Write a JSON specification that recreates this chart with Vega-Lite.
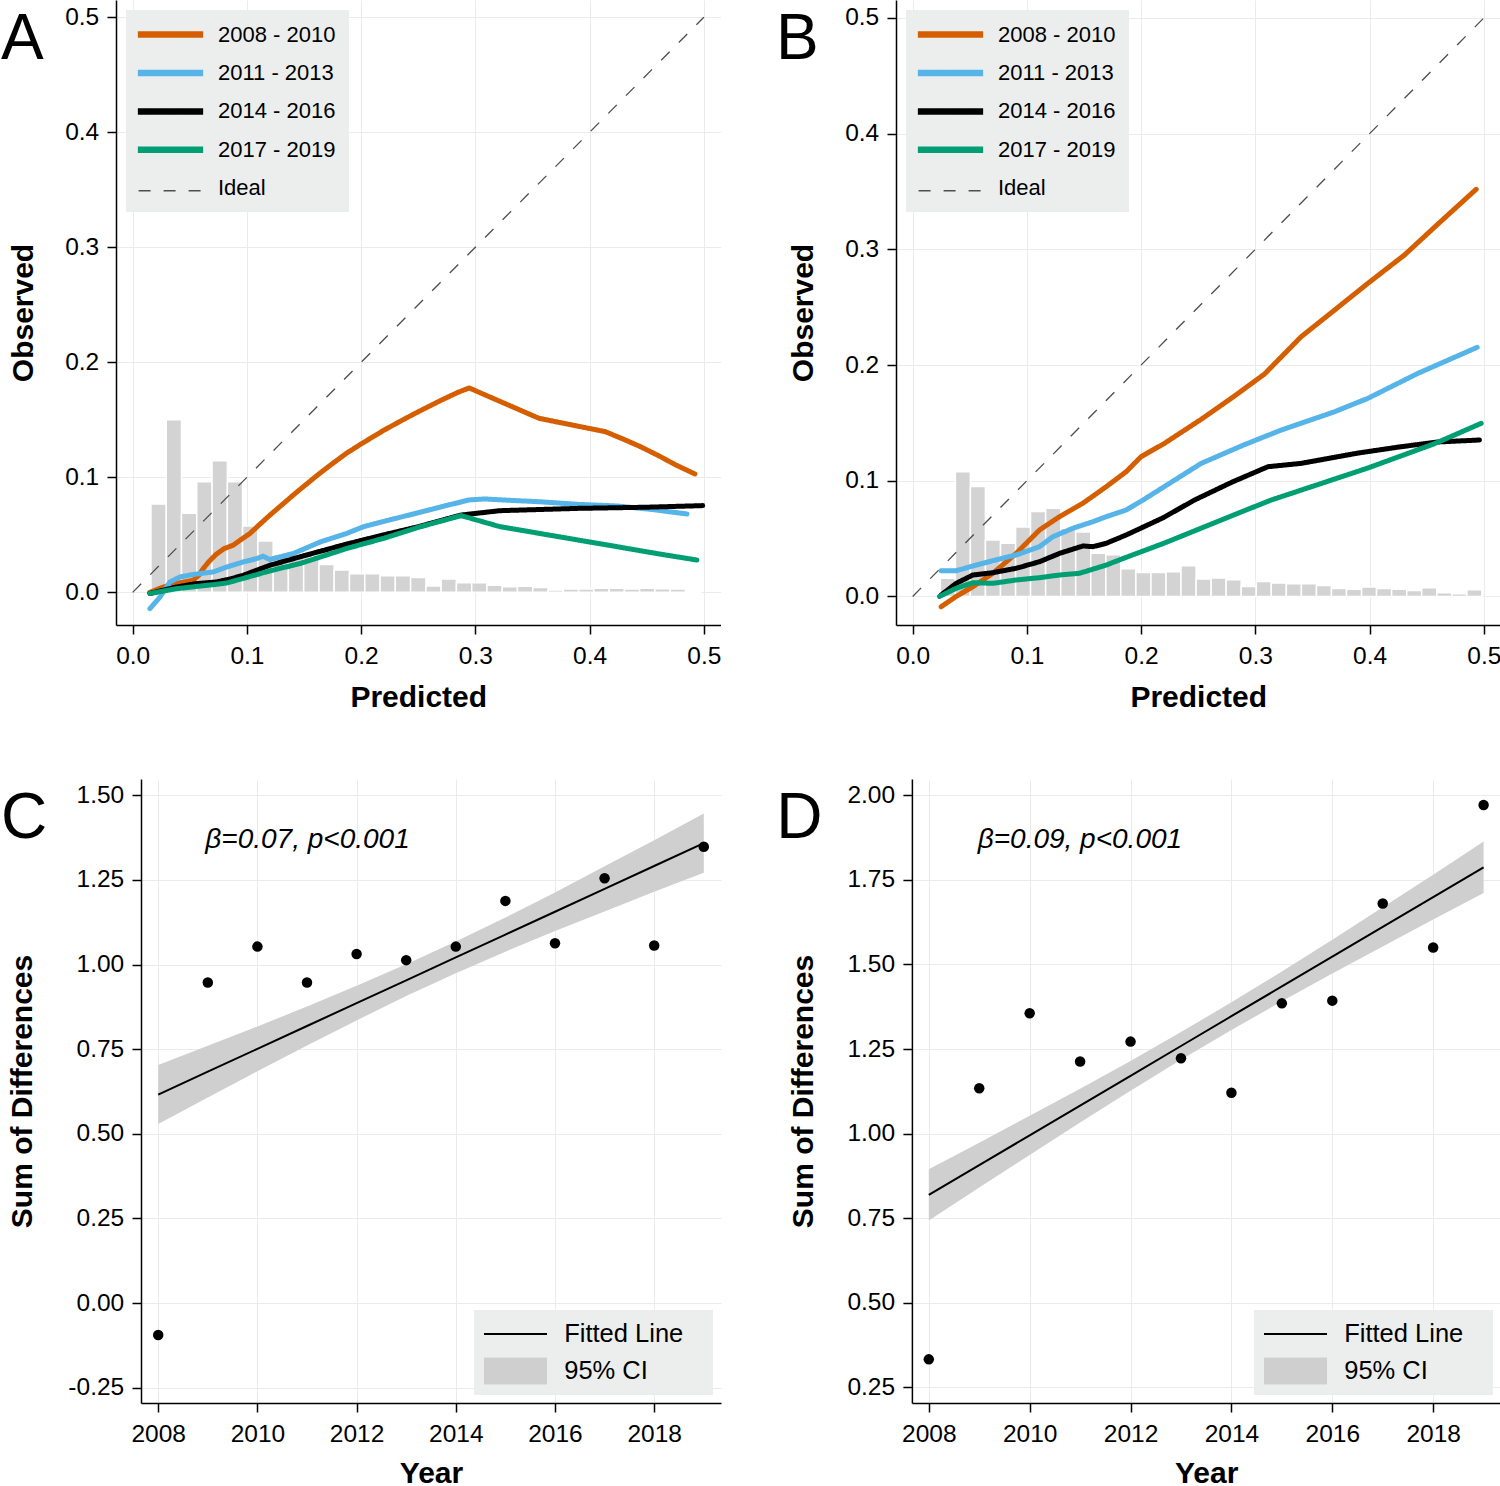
{
  "$schema": "https://vega.github.io/schema/vega-lite/v6.json",
  "padding": 0,
  "background": "white",
  "columns": 2,
  "align": "each",
  "spacing": {"row": 66, "column": 55},
  "resolve": {
    "scale": {"color": "independent", "fill": "independent", "strokeDash": "independent", "strokeWidth": "independent"},
    "legend": {"color": "independent", "fill": "independent", "strokeDash": "independent", "strokeWidth": "independent"}
  },
  "config": {
    "font": "Liberation Sans",
    "view": {"stroke": null},
    "axis": {
      "labelFont": "Liberation Sans", "labelFontSize": 24.5, "labelColor": "black",
      "titleFont": "Liberation Sans", "titleFontSize": 30, "titleFontWeight": "bold", "titleColor": "black",
      "domainColor": "black", "domainWidth": 1.5, "tickColor": "black", "tickWidth": 1.5, "tickSize": 9,
      "labelPadding": 8.3, "gridColor": "#EBEBEB", "gridWidth": 1, "labelFlush": false, "labelOverlap": false
    },
    "axisX": {"titlePadding": 15, "labelPadding": 10}
  },
  "datasets": {
    "ideal": [{"x": 0, "y": 0}, {"x": 0.5, "y": 0.5}],
    "histA": [
      {"x0": 0.0160, "x1": 0.0294, "h": 0.0768}, {"x0": 0.0294, "x1": 0.0427, "h": 0.150},
      {"x0": 0.0427, "x1": 0.0561, "h": 0.0687}, {"x0": 0.0561, "x1": 0.0695, "h": 0.0962},
      {"x0": 0.0695, "x1": 0.0829, "h": 0.1143}, {"x0": 0.0829, "x1": 0.0962, "h": 0.0962},
      {"x0": 0.0962, "x1": 0.1096, "h": 0.0576}, {"x0": 0.1096, "x1": 0.1230, "h": 0.0446},
      {"x0": 0.1230, "x1": 0.1363, "h": 0.033}, {"x0": 0.1363, "x1": 0.1497, "h": 0.031},
      {"x0": 0.1497, "x1": 0.1631, "h": 0.030}, {"x0": 0.1631, "x1": 0.1764, "h": 0.0243},
      {"x0": 0.1764, "x1": 0.1898, "h": 0.0194}, {"x0": 0.1898, "x1": 0.2032, "h": 0.0162},
      {"x0": 0.2032, "x1": 0.2166, "h": 0.0162}, {"x0": 0.2166, "x1": 0.2299, "h": 0.0145},
      {"x0": 0.2299, "x1": 0.2433, "h": 0.0145}, {"x0": 0.2433, "x1": 0.2567, "h": 0.013},
      {"x0": 0.2567, "x1": 0.2700, "h": 0.0055}, {"x0": 0.2700, "x1": 0.2834, "h": 0.0116},
      {"x0": 0.2834, "x1": 0.2968, "h": 0.0084}, {"x0": 0.2968, "x1": 0.3101, "h": 0.0084},
      {"x0": 0.3101, "x1": 0.3235, "h": 0.0061}, {"x0": 0.3235, "x1": 0.3369, "h": 0.0049},
      {"x0": 0.3369, "x1": 0.3503, "h": 0.0052}, {"x0": 0.3503, "x1": 0.3636, "h": 0.0041},
      {"x0": 0.3636, "x1": 0.3770, "h": 0.002}, {"x0": 0.3770, "x1": 0.3904, "h": 0.0029},
      {"x0": 0.3904, "x1": 0.4037, "h": 0.0029}, {"x0": 0.4037, "x1": 0.4171, "h": 0.0035},
      {"x0": 0.4171, "x1": 0.4305, "h": 0.0035}, {"x0": 0.4305, "x1": 0.4438, "h": 0.0029},
      {"x0": 0.4438, "x1": 0.4572, "h": 0.0035}, {"x0": 0.4572, "x1": 0.4706, "h": 0.0032},
      {"x0": 0.4706, "x1": 0.4840, "h": 0.0029}, {"x0": 0.4840, "x1": 0.4973, "h": 0.0014}
    ],
    "histB": [
      {"x0": 0.0242, "x1": 0.0374, "h": 0.0157}, {"x0": 0.0374, "x1": 0.0505, "h": 0.1078},
      {"x0": 0.0505, "x1": 0.0637, "h": 0.095}, {"x0": 0.0637, "x1": 0.0769, "h": 0.0488},
      {"x0": 0.0769, "x1": 0.0901, "h": 0.046}, {"x0": 0.0901, "x1": 0.1032, "h": 0.060},
      {"x0": 0.1032, "x1": 0.1164, "h": 0.0734}, {"x0": 0.1164, "x1": 0.1296, "h": 0.0762},
      {"x0": 0.1296, "x1": 0.1427, "h": 0.0589}, {"x0": 0.1427, "x1": 0.1559, "h": 0.0557},
      {"x0": 0.1559, "x1": 0.1691, "h": 0.0373}, {"x0": 0.1691, "x1": 0.1822, "h": 0.036},
      {"x0": 0.1822, "x1": 0.1954, "h": 0.0239}, {"x0": 0.1954, "x1": 0.2086, "h": 0.0207},
      {"x0": 0.2086, "x1": 0.2218, "h": 0.0207}, {"x0": 0.2218, "x1": 0.2349, "h": 0.0213},
      {"x0": 0.2349, "x1": 0.2481, "h": 0.0265}, {"x0": 0.2481, "x1": 0.2613, "h": 0.015},
      {"x0": 0.2613, "x1": 0.2744, "h": 0.0159}, {"x0": 0.2744, "x1": 0.2876, "h": 0.0144},
      {"x0": 0.2876, "x1": 0.3008, "h": 0.0086}, {"x0": 0.3008, "x1": 0.3139, "h": 0.013},
      {"x0": 0.3139, "x1": 0.3271, "h": 0.0115}, {"x0": 0.3271, "x1": 0.3403, "h": 0.011},
      {"x0": 0.3403, "x1": 0.3535, "h": 0.011}, {"x0": 0.3535, "x1": 0.3666, "h": 0.0095},
      {"x0": 0.3666, "x1": 0.3798, "h": 0.0069}, {"x0": 0.3798, "x1": 0.3930, "h": 0.0063},
      {"x0": 0.3930, "x1": 0.4061, "h": 0.0081}, {"x0": 0.4061, "x1": 0.4193, "h": 0.0069},
      {"x0": 0.4193, "x1": 0.4325, "h": 0.0063}, {"x0": 0.4325, "x1": 0.4456, "h": 0.0052},
      {"x0": 0.4456, "x1": 0.4588, "h": 0.0075}, {"x0": 0.4588, "x1": 0.4720, "h": 0.0032},
      {"x0": 0.4720, "x1": 0.4852, "h": 0.0023}, {"x0": 0.4852, "x1": 0.4983, "h": 0.0058}
    ],
    "linesA": [
      {"series": "2008 - 2010", "x": 0.015, "y": 0.000}, {"series": "2008 - 2010", "x": 0.025, "y": 0.004},
      {"series": "2008 - 2010", "x": 0.035, "y": 0.007}, {"series": "2008 - 2010", "x": 0.045, "y": 0.009},
      {"series": "2008 - 2010", "x": 0.053, "y": 0.0105}, {"series": "2008 - 2010", "x": 0.058, "y": 0.015},
      {"series": "2008 - 2010", "x": 0.062, "y": 0.021}, {"series": "2008 - 2010", "x": 0.067, "y": 0.027},
      {"series": "2008 - 2010", "x": 0.073, "y": 0.033}, {"series": "2008 - 2010", "x": 0.080, "y": 0.038},
      {"series": "2008 - 2010", "x": 0.088, "y": 0.041}, {"series": "2008 - 2010", "x": 0.095, "y": 0.046},
      {"series": "2008 - 2010", "x": 0.1026, "y": 0.0511}, {"series": "2008 - 2010", "x": 0.110, "y": 0.058},
      {"series": "2008 - 2010", "x": 0.120, "y": 0.067}, {"series": "2008 - 2010", "x": 0.130, "y": 0.0755},
      {"series": "2008 - 2010", "x": 0.1405, "y": 0.0845}, {"series": "2008 - 2010", "x": 0.152, "y": 0.094},
      {"series": "2008 - 2010", "x": 0.1637, "y": 0.1034}, {"series": "2008 - 2010", "x": 0.175, "y": 0.112},
      {"series": "2008 - 2010", "x": 0.187, "y": 0.1208}, {"series": "2008 - 2010", "x": 0.200, "y": 0.129},
      {"series": "2008 - 2010", "x": 0.220, "y": 0.141}, {"series": "2008 - 2010", "x": 0.2364, "y": 0.1499},
      {"series": "2008 - 2010", "x": 0.250, "y": 0.157}, {"series": "2008 - 2010", "x": 0.270, "y": 0.167},
      {"series": "2008 - 2010", "x": 0.285, "y": 0.174}, {"series": "2008 - 2010", "x": 0.2946, "y": 0.1777},
      {"series": "2008 - 2010", "x": 0.310, "y": 0.171}, {"series": "2008 - 2010", "x": 0.330, "y": 0.1624},
      {"series": "2008 - 2010", "x": 0.3557, "y": 0.1513}, {"series": "2008 - 2010", "x": 0.380, "y": 0.1464},
      {"series": "2008 - 2010", "x": 0.4137, "y": 0.1397}, {"series": "2008 - 2010", "x": 0.430, "y": 0.133},
      {"series": "2008 - 2010", "x": 0.4444, "y": 0.1267}, {"series": "2008 - 2010", "x": 0.460, "y": 0.119},
      {"series": "2008 - 2010", "x": 0.475, "y": 0.111}, {"series": "2008 - 2010", "x": 0.4922, "y": 0.1029},
      {"series": "2011 - 2013", "x": 0.0151, "y": -0.0142}, {"series": "2011 - 2013", "x": 0.0239, "y": -0.0041},
      {"series": "2011 - 2013", "x": 0.0326, "y": 0.009}, {"series": "2011 - 2013", "x": 0.0413, "y": 0.0133},
      {"series": "2011 - 2013", "x": 0.050, "y": 0.015}, {"series": "2011 - 2013", "x": 0.0588, "y": 0.0163},
      {"series": "2011 - 2013", "x": 0.0705, "y": 0.0177}, {"series": "2011 - 2013", "x": 0.0822, "y": 0.022},
      {"series": "2011 - 2013", "x": 0.0967, "y": 0.0264}, {"series": "2011 - 2013", "x": 0.1084, "y": 0.0293},
      {"series": "2011 - 2013", "x": 0.1142, "y": 0.0314}, {"series": "2011 - 2013", "x": 0.120, "y": 0.0285},
      {"series": "2011 - 2013", "x": 0.130, "y": 0.031}, {"series": "2011 - 2013", "x": 0.1405, "y": 0.0337},
      {"series": "2011 - 2013", "x": 0.1647, "y": 0.044}, {"series": "2011 - 2013", "x": 0.187, "y": 0.0511},
      {"series": "2011 - 2013", "x": 0.2022, "y": 0.0571}, {"series": "2011 - 2013", "x": 0.2534, "y": 0.0701},
      {"series": "2011 - 2013", "x": 0.2943, "y": 0.0803}, {"series": "2011 - 2013", "x": 0.308, "y": 0.0812},
      {"series": "2011 - 2013", "x": 0.330, "y": 0.080}, {"series": "2011 - 2013", "x": 0.3557, "y": 0.0788},
      {"series": "2011 - 2013", "x": 0.390, "y": 0.0765}, {"series": "2011 - 2013", "x": 0.424, "y": 0.0751},
      {"series": "2011 - 2013", "x": 0.455, "y": 0.072}, {"series": "2011 - 2013", "x": 0.4853, "y": 0.0681},
      {"series": "2014 - 2016", "x": 0.0151, "y": -0.001}, {"series": "2014 - 2016", "x": 0.0385, "y": 0.0046},
      {"series": "2014 - 2016", "x": 0.055, "y": 0.0075}, {"series": "2014 - 2016", "x": 0.0734, "y": 0.009},
      {"series": "2014 - 2016", "x": 0.085, "y": 0.0115}, {"series": "2014 - 2016", "x": 0.0967, "y": 0.0148},
      {"series": "2014 - 2016", "x": 0.120, "y": 0.0235}, {"series": "2014 - 2016", "x": 0.1463, "y": 0.0308},
      {"series": "2014 - 2016", "x": 0.187, "y": 0.0418}, {"series": "2014 - 2016", "x": 0.220, "y": 0.050},
      {"series": "2014 - 2016", "x": 0.250, "y": 0.057}, {"series": "2014 - 2016", "x": 0.2875, "y": 0.0672},
      {"series": "2014 - 2016", "x": 0.3216, "y": 0.071}, {"series": "2014 - 2016", "x": 0.3898, "y": 0.073},
      {"series": "2014 - 2016", "x": 0.450, "y": 0.074}, {"series": "2014 - 2016", "x": 0.499, "y": 0.0754},
      {"series": "2017 - 2019", "x": 0.0151, "y": -0.001}, {"series": "2017 - 2019", "x": 0.0385, "y": 0.0032},
      {"series": "2017 - 2019", "x": 0.0734, "y": 0.007}, {"series": "2017 - 2019", "x": 0.0822, "y": 0.0081},
      {"series": "2017 - 2019", "x": 0.100, "y": 0.013}, {"series": "2017 - 2019", "x": 0.120, "y": 0.0186},
      {"series": "2017 - 2019", "x": 0.1463, "y": 0.025}, {"series": "2017 - 2019", "x": 0.187, "y": 0.038},
      {"series": "2017 - 2019", "x": 0.220, "y": 0.047}, {"series": "2017 - 2019", "x": 0.250, "y": 0.0565},
      {"series": "2017 - 2019", "x": 0.2875, "y": 0.0667}, {"series": "2017 - 2019", "x": 0.3216, "y": 0.0571},
      {"series": "2017 - 2019", "x": 0.3898, "y": 0.0455}, {"series": "2017 - 2019", "x": 0.424, "y": 0.0397},
      {"series": "2017 - 2019", "x": 0.460, "y": 0.0335}, {"series": "2017 - 2019", "x": 0.4939, "y": 0.0281}
    ],
    "linesB": [
      {"series": "2008 - 2010", "x": 0.0249, "y": -0.0089}, {"series": "2008 - 2010", "x": 0.0381, "y": 0.0},
      {"series": "2008 - 2010", "x": 0.0527, "y": 0.0084}, {"series": "2008 - 2010", "x": 0.0702, "y": 0.020},
      {"series": "2008 - 2010", "x": 0.0906, "y": 0.0372}, {"series": "2008 - 2010", "x": 0.111, "y": 0.0574},
      {"series": "2008 - 2010", "x": 0.1285, "y": 0.0689}, {"series": "2008 - 2010", "x": 0.149, "y": 0.0805},
      {"series": "2008 - 2010", "x": 0.1694, "y": 0.0948}, {"series": "2008 - 2010", "x": 0.1869, "y": 0.1078},
      {"series": "2008 - 2010", "x": 0.200, "y": 0.1208}, {"series": "2008 - 2010", "x": 0.2204, "y": 0.1323},
      {"series": "2008 - 2010", "x": 0.2526, "y": 0.1531}, {"series": "2008 - 2010", "x": 0.280, "y": 0.172},
      {"series": "2008 - 2010", "x": 0.308, "y": 0.1922}, {"series": "2008 - 2010", "x": 0.3401, "y": 0.2245},
      {"series": "2008 - 2010", "x": 0.370, "y": 0.248}, {"series": "2008 - 2010", "x": 0.3985, "y": 0.2706},
      {"series": "2008 - 2010", "x": 0.4305, "y": 0.2951}, {"series": "2008 - 2010", "x": 0.460, "y": 0.322},
      {"series": "2008 - 2010", "x": 0.4933, "y": 0.3519},
      {"series": "2011 - 2013", "x": 0.0249, "y": 0.0222}, {"series": "2011 - 2013", "x": 0.0381, "y": 0.0222},
      {"series": "2011 - 2013", "x": 0.0527, "y": 0.0263}, {"series": "2011 - 2013", "x": 0.0702, "y": 0.0309},
      {"series": "2011 - 2013", "x": 0.0906, "y": 0.0358}, {"series": "2011 - 2013", "x": 0.111, "y": 0.043},
      {"series": "2011 - 2013", "x": 0.1227, "y": 0.0516}, {"series": "2011 - 2013", "x": 0.1402, "y": 0.0589},
      {"series": "2011 - 2013", "x": 0.1578, "y": 0.0646}, {"series": "2011 - 2013", "x": 0.1694, "y": 0.0689},
      {"series": "2011 - 2013", "x": 0.1869, "y": 0.0747}, {"series": "2011 - 2013", "x": 0.200, "y": 0.0823},
      {"series": "2011 - 2013", "x": 0.2526, "y": 0.115}, {"series": "2011 - 2013", "x": 0.290, "y": 0.131},
      {"series": "2011 - 2013", "x": 0.3226, "y": 0.1438}, {"series": "2011 - 2013", "x": 0.3693, "y": 0.1596},
      {"series": "2011 - 2013", "x": 0.3985, "y": 0.1712}, {"series": "2011 - 2013", "x": 0.4423, "y": 0.1928},
      {"series": "2011 - 2013", "x": 0.4942, "y": 0.2153},
      {"series": "2014 - 2016", "x": 0.0249, "y": 0.0012}, {"series": "2014 - 2016", "x": 0.0381, "y": 0.0113},
      {"series": "2014 - 2016", "x": 0.0527, "y": 0.0185}, {"series": "2014 - 2016", "x": 0.0702, "y": 0.0205},
      {"series": "2014 - 2016", "x": 0.0906, "y": 0.0243}, {"series": "2014 - 2016", "x": 0.111, "y": 0.030},
      {"series": "2014 - 2016", "x": 0.1285, "y": 0.0372}, {"series": "2014 - 2016", "x": 0.149, "y": 0.0436},
      {"series": "2014 - 2016", "x": 0.1578, "y": 0.043}, {"series": "2014 - 2016", "x": 0.1694, "y": 0.0459},
      {"series": "2014 - 2016", "x": 0.1869, "y": 0.0531}, {"series": "2014 - 2016", "x": 0.2193, "y": 0.068},
      {"series": "2014 - 2016", "x": 0.2467, "y": 0.0833}, {"series": "2014 - 2016", "x": 0.280, "y": 0.099},
      {"series": "2014 - 2016", "x": 0.311, "y": 0.1121}, {"series": "2014 - 2016", "x": 0.3401, "y": 0.115},
      {"series": "2014 - 2016", "x": 0.3898, "y": 0.1239}, {"series": "2014 - 2016", "x": 0.4276, "y": 0.1294},
      {"series": "2014 - 2016", "x": 0.460, "y": 0.1335}, {"series": "2014 - 2016", "x": 0.4962, "y": 0.1352},
      {"series": "2017 - 2019", "x": 0.0235, "y": 0.0}, {"series": "2017 - 2019", "x": 0.0381, "y": 0.007},
      {"series": "2017 - 2019", "x": 0.0527, "y": 0.0119}, {"series": "2017 - 2019", "x": 0.0702, "y": 0.0113},
      {"series": "2017 - 2019", "x": 0.0906, "y": 0.0142}, {"series": "2017 - 2019", "x": 0.111, "y": 0.0162},
      {"series": "2017 - 2019", "x": 0.1285, "y": 0.0185}, {"series": "2017 - 2019", "x": 0.146, "y": 0.020},
      {"series": "2017 - 2019", "x": 0.1694, "y": 0.0271}, {"series": "2017 - 2019", "x": 0.1869, "y": 0.0338},
      {"series": "2017 - 2019", "x": 0.220, "y": 0.046}, {"series": "2017 - 2019", "x": 0.250, "y": 0.058},
      {"series": "2017 - 2019", "x": 0.280, "y": 0.070}, {"series": "2017 - 2019", "x": 0.3138, "y": 0.0833},
      {"series": "2017 - 2019", "x": 0.3985, "y": 0.111}, {"series": "2017 - 2019", "x": 0.4568, "y": 0.132},
      {"series": "2017 - 2019", "x": 0.4977, "y": 0.1496}
    ],
    "fitC": [
      {"year": 2008, "fit": 0.616, "lo": 0.529, "hi": 0.703}, {"year": 2009, "fit": 0.6835, "lo": 0.607, "hi": 0.760},
      {"year": 2010, "fit": 0.751, "lo": 0.685, "hi": 0.817}, {"year": 2011, "fit": 0.8185, "lo": 0.761, "hi": 0.876},
      {"year": 2012, "fit": 0.886, "lo": 0.835, "hi": 0.937}, {"year": 2013, "fit": 0.9535, "lo": 0.907, "hi": 1.001},
      {"year": 2014, "fit": 1.021, "lo": 0.974, "hi": 1.068}, {"year": 2015, "fit": 1.0885, "lo": 1.038, "hi": 1.139},
      {"year": 2016, "fit": 1.156, "lo": 1.099, "hi": 1.213}, {"year": 2017, "fit": 1.2235, "lo": 1.157, "hi": 1.290},
      {"year": 2018, "fit": 1.291, "lo": 1.215, "hi": 1.367}, {"year": 2019, "fit": 1.3585, "lo": 1.271, "hi": 1.446}
    ],
    "ptsC": [
      {"year": 2008, "v": -0.094}, {"year": 2009, "v": 0.947}, {"year": 2010, "v": 1.053}, {"year": 2011, "v": 0.947},
      {"year": 2012, "v": 1.031}, {"year": 2013, "v": 1.013}, {"year": 2014, "v": 1.053}, {"year": 2015, "v": 1.188},
      {"year": 2016, "v": 1.063}, {"year": 2017, "v": 1.255}, {"year": 2018, "v": 1.056}, {"year": 2019, "v": 1.348}
    ],
    "annC": [{"year": 2008.95, "v": 1.367, "label": "β=0.07, p<0.001"}],
    "fitD": [
      {"year": 2008, "fit": 0.819, "lo": 0.743, "hi": 0.895}, {"year": 2009, "fit": 0.907, "lo": 0.841, "hi": 0.973},
      {"year": 2010, "fit": 0.995, "lo": 0.937, "hi": 1.053}, {"year": 2011, "fit": 1.083, "lo": 1.033, "hi": 1.133},
      {"year": 2012, "fit": 1.171, "lo": 1.127, "hi": 1.215}, {"year": 2013, "fit": 1.259, "lo": 1.218, "hi": 1.300},
      {"year": 2014, "fit": 1.347, "lo": 1.306, "hi": 1.388}, {"year": 2015, "fit": 1.435, "lo": 1.391, "hi": 1.479},
      {"year": 2016, "fit": 1.523, "lo": 1.473, "hi": 1.573}, {"year": 2017, "fit": 1.611, "lo": 1.553, "hi": 1.669},
      {"year": 2018, "fit": 1.699, "lo": 1.633, "hi": 1.765}, {"year": 2019, "fit": 1.787, "lo": 1.711, "hi": 1.863}
    ],
    "ptsD": [
      {"year": 2008, "v": 0.333}, {"year": 2009, "v": 1.134}, {"year": 2010, "v": 1.356}, {"year": 2011, "v": 1.213},
      {"year": 2012, "v": 1.272}, {"year": 2013, "v": 1.223}, {"year": 2014, "v": 1.121}, {"year": 2015, "v": 1.385},
      {"year": 2016, "v": 1.393}, {"year": 2017, "v": 1.680}, {"year": 2018, "v": 1.550}, {"year": 2019, "v": 1.971}
    ],
    "annD": [{"year": 2008.97, "v": 1.867, "label": "β=0.09, p<0.001"}]
  },
  "concat": [
    {
      "width": 604.5, "height": 625,
      "title": {"text": "A", "orient": "top", "anchor": "start", "frame": "bounds", "offset": -123, "dx": -7, "baseline": "alphabetic", "align": "left", "font": "Liberation Sans", "fontSize": 64, "fontWeight": "normal", "color": "black"},
      "layer": [
        {
          "data": {"name": "histA"},
          "mark": {"type": "rect", "fill": "#D3D3D3", "stroke": "white", "strokeWidth": 1.5},
          "encoding": {
            "x": {"field": "x0", "type": "quantitative", "title": "Predicted", "scale": {"domain": [-0.0146, 0.5146], "nice": false, "zero": false}, "axis": {"values": [0, 0.1, 0.2, 0.3, 0.4, 0.5], "format": ".1f"}},
            "x2": {"field": "x1"},
            "y": {"field": "h", "type": "quantitative", "title": "Observed", "scale": {"domain": [-0.0284, 0.515], "nice": false, "zero": false}, "axis": {"values": [0, 0.1, 0.2, 0.3, 0.4, 0.5], "format": ".1f", "titlePadding": 26.6}},
            "y2": {"datum": 0}
          }
        },
        {
          "data": {"name": "ideal"},
          "mark": {"type": "line", "color": "#4D4D4D", "strokeWidth": 1.3, "strokeDash": [12, 13]},
          "encoding": {
            "x": {"field": "x", "type": "quantitative", "title": "Predicted"},
            "y": {"field": "y", "type": "quantitative", "title": "Observed"},
            "fill": {
              "datum": "Ideal", "type": "nominal",
              "scale": {"domain": ["2008 - 2010", "2011 - 2013", "2014 - 2016", "2017 - 2019", "Ideal"], "range": ["#D55E00", "#56B4E9", "#000000", "#009E73", "transparent"]},
              "legend": {
                "title": null, "orient": "top-left", "offset": 10, "padding": 12.6, "fillColor": "#ECEEEE",
                "symbolType": "M-2.9,0.227H2.9V-0.227H-2.9Z", "symbolSize": 484, "symbolOffset": 19.9,
                "labelOffset": 35.5, "rowPadding": 15.4, "labelFontSize": 22, "labelFont": "Liberation Sans", "labelColor": "black", "labelLimit": 400
              }
            }
          }
        },
        {
          "data": {"name": "linesA"},
          "mark": {"type": "line", "strokeWidth": 5, "strokeCap": "round", "strokeJoin": "round"},
          "encoding": {
            "x": {"field": "x", "type": "quantitative", "title": "Predicted"},
            "y": {"field": "y", "type": "quantitative", "title": "Observed"},
            "color": {
              "field": "series", "type": "nominal",
              "scale": {"domain": ["2008 - 2010", "2011 - 2013", "2014 - 2016", "2017 - 2019", "Ideal"], "range": ["#D55E00", "#56B4E9", "#000000", "#009E73", "#4D4D4D"]},
              "legend": {
                "title": null, "orient": "top-left", "offset": 10, "padding": 12.6, "fillColor": "#ECEEEE",
                "symbolType": "M-2.9,0.227H2.9V-0.227H-2.9Z", "symbolSize": 484, "symbolOffset": 19.9,
                "labelOffset": 35.5, "rowPadding": 15.4, "labelFontSize": 22, "labelFont": "Liberation Sans", "labelColor": "black", "labelLimit": 400
              }
            },
            "strokeDash": {
              "field": "series", "type": "nominal",
              "scale": {"domain": ["2008 - 2010", "2011 - 2013", "2014 - 2016", "2017 - 2019", "Ideal"], "range": [[1, 0], [1, 0], [1, 0], [1, 0], [12, 13, 12, 13, 12, 76]]},
              "legend": {
                "title": null, "orient": "top-left", "offset": 10, "padding": 12.6, "fillColor": "#ECEEEE",
                "symbolType": "M-2.9,0.227H2.9V-0.227H-2.9Z", "symbolSize": 484, "symbolOffset": 19.9,
                "labelOffset": 35.5, "rowPadding": 15.4, "labelFontSize": 22, "labelFont": "Liberation Sans", "labelColor": "black", "labelLimit": 400
              }
            }
          }
        }
      ]
    },
    {
      "width": 604.5, "height": 625,
      "title": {"text": "B", "orient": "top", "anchor": "start", "frame": "bounds", "offset": -123, "dx": -12, "baseline": "alphabetic", "align": "left", "font": "Liberation Sans", "fontSize": 64, "fontWeight": "normal", "color": "black"},
      "layer": [
        {
          "data": {"name": "histB"},
          "mark": {"type": "rect", "fill": "#D3D3D3", "stroke": "white", "strokeWidth": 1.5},
          "encoding": {
            "x": {"field": "x0", "type": "quantitative", "title": "Predicted", "scale": {"domain": [-0.0146, 0.5146], "nice": false, "zero": false}, "axis": {"values": [0, 0.1, 0.2, 0.3, 0.4, 0.5], "format": ".1f"}},
            "x2": {"field": "x1"},
            "y": {"field": "h", "type": "quantitative", "title": "Observed", "scale": {"domain": [-0.0247, 0.5155], "nice": false, "zero": false}, "axis": {"values": [0, 0.1, 0.2, 0.3, 0.4, 0.5], "format": ".1f", "titlePadding": 26.6}},
            "y2": {"datum": 0}
          }
        },
        {
          "data": {"name": "ideal"},
          "mark": {"type": "line", "color": "#4D4D4D", "strokeWidth": 1.3, "strokeDash": [12, 13]},
          "encoding": {
            "x": {"field": "x", "type": "quantitative", "title": "Predicted"},
            "y": {"field": "y", "type": "quantitative", "title": "Observed"},
            "fill": {
              "datum": "Ideal", "type": "nominal",
              "scale": {"domain": ["2008 - 2010", "2011 - 2013", "2014 - 2016", "2017 - 2019", "Ideal"], "range": ["#D55E00", "#56B4E9", "#000000", "#009E73", "transparent"]},
              "legend": {
                "title": null, "orient": "top-left", "offset": 10, "padding": 12.6, "fillColor": "#ECEEEE",
                "symbolType": "M-2.9,0.227H2.9V-0.227H-2.9Z", "symbolSize": 484, "symbolOffset": 19.9,
                "labelOffset": 35.5, "rowPadding": 15.4, "labelFontSize": 22, "labelFont": "Liberation Sans", "labelColor": "black", "labelLimit": 400
              }
            }
          }
        },
        {
          "data": {"name": "linesB"},
          "mark": {"type": "line", "strokeWidth": 5, "strokeCap": "round", "strokeJoin": "round"},
          "encoding": {
            "x": {"field": "x", "type": "quantitative", "title": "Predicted"},
            "y": {"field": "y", "type": "quantitative", "title": "Observed"},
            "color": {
              "field": "series", "type": "nominal",
              "scale": {"domain": ["2008 - 2010", "2011 - 2013", "2014 - 2016", "2017 - 2019", "Ideal"], "range": ["#D55E00", "#56B4E9", "#000000", "#009E73", "#4D4D4D"]},
              "legend": {
                "title": null, "orient": "top-left", "offset": 10, "padding": 12.6, "fillColor": "#ECEEEE",
                "symbolType": "M-2.9,0.227H2.9V-0.227H-2.9Z", "symbolSize": 484, "symbolOffset": 19.9,
                "labelOffset": 35.5, "rowPadding": 15.4, "labelFontSize": 22, "labelFont": "Liberation Sans", "labelColor": "black", "labelLimit": 400
              }
            },
            "strokeDash": {
              "field": "series", "type": "nominal",
              "scale": {"domain": ["2008 - 2010", "2011 - 2013", "2014 - 2016", "2017 - 2019", "Ideal"], "range": [[1, 0], [1, 0], [1, 0], [1, 0], [12, 13, 12, 13, 12, 76]]},
              "legend": {
                "title": null, "orient": "top-left", "offset": 10, "padding": 12.6, "fillColor": "#ECEEEE",
                "symbolType": "M-2.9,0.227H2.9V-0.227H-2.9Z", "symbolSize": 484, "symbolOffset": 19.9,
                "labelOffset": 35.5, "rowPadding": 15.4, "labelFontSize": 22, "labelFont": "Liberation Sans", "labelColor": "black", "labelLimit": 400
              }
            }
          }
        }
      ]
    },
    {
      "width": 605, "height": 624,
      "title": {"text": "C", "orient": "top", "anchor": "start", "frame": "bounds", "offset": -123, "dx": -7, "baseline": "alphabetic", "align": "left", "font": "Liberation Sans", "fontSize": 64, "fontWeight": "normal", "color": "black"},
      "layer": [
        {
          "data": {"name": "fitC"},
          "mark": {"type": "area", "fill": "#CFCFCF", "opacity": 1},
          "encoding": {
            "x": {"field": "year", "type": "quantitative", "title": "Year", "scale": {"domain": [2007.653, 2019.347], "nice": false, "zero": false, "rangeMin": 25}, "axis": {"values": [2008, 2010, 2012, 2014, 2016, 2018], "format": "d", "titlePadding": 13}},
            "y": {"field": "lo", "type": "quantitative", "title": "Sum of Differences", "scale": {"domain": [-0.295, 1.548], "nice": false, "zero": false}, "axis": {"values": [-0.25, 0, 0.25, 0.5, 0.75, 1, 1.25, 1.5], "format": ".2f", "labelExpr": "replace(datum.label, '−', '-')", "titlePadding": 29.9, "offset": -25}},
            "y2": {"field": "hi"}
          }
        },
        {
          "data": {"name": "fitC"},
          "mark": {"type": "line"},
          "encoding": {
            "x": {"field": "year", "type": "quantitative", "title": "Year"},
            "y": {"field": "fit", "type": "quantitative", "title": "Sum of Differences"},
            "color": {
              "datum": "Fitted Line", "type": "nominal",
              "scale": {"domain": ["Fitted Line", "95% CI"], "range": ["black", "#CFCFCF"]},
              "legend": {
                "title": null, "orient": "bottom-right", "offset": 8, "padding": 10, "fillColor": "#ECEEEE",
                "symbolType": "M-63,0H63", "symbolSize": 1, "symbolOffset": 17.5, "clipHeight": 28,
                "labelOffset": 34.7, "rowPadding": 9, "labelFontSize": 25.5, "labelFont": "Liberation Sans", "labelColor": "black", "labelLimit": 400,
                "labelExpr": "datum.label + '\u2800'"
              }
            },
            "strokeWidth": {
              "datum": "Fitted Line", "type": "nominal",
              "scale": {"type": "point", "domain": ["Fitted Line", "95% CI"], "range": [2, 27], "padding": 0},
              "legend": {
                "title": null, "orient": "bottom-right", "offset": 8, "padding": 10, "fillColor": "#ECEEEE",
                "symbolType": "M-63,0H63", "symbolSize": 1, "symbolOffset": 17.5, "clipHeight": 28,
                "labelOffset": 34.7, "rowPadding": 9, "labelFontSize": 25.5, "labelFont": "Liberation Sans", "labelColor": "black", "labelLimit": 400,
                "labelExpr": "datum.label + '\u2800'"
              }
            }
          }
        },
        {
          "data": {"name": "ptsC"},
          "mark": {"type": "circle", "size": 110, "color": "black", "opacity": 1},
          "encoding": {
            "x": {"field": "year", "type": "quantitative", "title": "Year"},
            "y": {"field": "v", "type": "quantitative", "title": "Sum of Differences"}
          }
        },
        {
          "data": {"name": "annC"},
          "mark": {"type": "text", "align": "left", "baseline": "middle", "fontStyle": "italic", "fontSize": 28, "font": "Liberation Sans", "color": "black"},
          "encoding": {
            "x": {"field": "year", "type": "quantitative", "title": "Year"},
            "y": {"field": "v", "type": "quantitative", "title": "Sum of Differences"},
            "text": {"field": "label"}
          }
        }
      ]
    },
    {
      "width": 604.5, "height": 624,
      "title": {"text": "D", "orient": "top", "anchor": "start", "frame": "bounds", "offset": -123, "dx": -12, "baseline": "alphabetic", "align": "left", "font": "Liberation Sans", "fontSize": 64, "fontWeight": "normal", "color": "black"},
      "layer": [
        {
          "data": {"name": "fitD"},
          "mark": {"type": "area", "fill": "#CFCFCF", "opacity": 1},
          "encoding": {
            "x": {"field": "year", "type": "quantitative", "title": "Year", "scale": {"domain": [2007.665, 2019.335], "nice": false, "zero": false, "rangeMin": 15.9}, "axis": {"values": [2008, 2010, 2012, 2014, 2016, 2018], "format": "d", "titlePadding": 13}},
            "y": {"field": "lo", "type": "quantitative", "title": "Sum of Differences", "scale": {"domain": [0.204, 2.048], "nice": false, "zero": false}, "axis": {"values": [0.25, 0.5, 0.75, 1, 1.25, 1.5, 1.75, 2], "format": ".2f", "titlePadding": 28.7, "offset": -15.9}},
            "y2": {"field": "hi"}
          }
        },
        {
          "data": {"name": "fitD"},
          "mark": {"type": "line"},
          "encoding": {
            "x": {"field": "year", "type": "quantitative", "title": "Year"},
            "y": {"field": "fit", "type": "quantitative", "title": "Sum of Differences"},
            "color": {
              "datum": "Fitted Line", "type": "nominal",
              "scale": {"domain": ["Fitted Line", "95% CI"], "range": ["black", "#CFCFCF"]},
              "legend": {
                "title": null, "orient": "bottom-right", "offset": 8, "padding": 10, "fillColor": "#ECEEEE",
                "symbolType": "M-63,0H63", "symbolSize": 1, "symbolOffset": 17.5, "clipHeight": 28,
                "labelOffset": 34.7, "rowPadding": 9, "labelFontSize": 25.5, "labelFont": "Liberation Sans", "labelColor": "black", "labelLimit": 400,
                "labelExpr": "datum.label + '\u2800'"
              }
            },
            "strokeWidth": {
              "datum": "Fitted Line", "type": "nominal",
              "scale": {"type": "point", "domain": ["Fitted Line", "95% CI"], "range": [2, 27], "padding": 0},
              "legend": {
                "title": null, "orient": "bottom-right", "offset": 8, "padding": 10, "fillColor": "#ECEEEE",
                "symbolType": "M-63,0H63", "symbolSize": 1, "symbolOffset": 17.5, "clipHeight": 28,
                "labelOffset": 34.7, "rowPadding": 9, "labelFontSize": 25.5, "labelFont": "Liberation Sans", "labelColor": "black", "labelLimit": 400,
                "labelExpr": "datum.label + '\u2800'"
              }
            }
          }
        },
        {
          "data": {"name": "ptsD"},
          "mark": {"type": "circle", "size": 110, "color": "black", "opacity": 1},
          "encoding": {
            "x": {"field": "year", "type": "quantitative", "title": "Year"},
            "y": {"field": "v", "type": "quantitative", "title": "Sum of Differences"}
          }
        },
        {
          "data": {"name": "annD"},
          "mark": {"type": "text", "align": "left", "baseline": "middle", "fontStyle": "italic", "fontSize": 28, "font": "Liberation Sans", "color": "black"},
          "encoding": {
            "x": {"field": "year", "type": "quantitative", "title": "Year"},
            "y": {"field": "v", "type": "quantitative", "title": "Sum of Differences"},
            "text": {"field": "label"}
          }
        }
      ]
    }
  ]
}
